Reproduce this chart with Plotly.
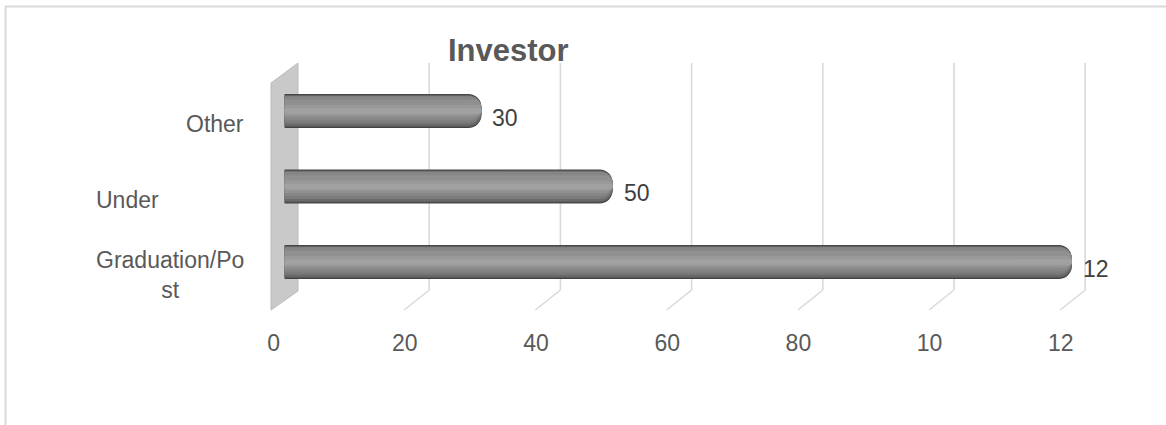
import plotly.graph_objects as go

# ---- data ----
categories = ["Graduation/Post", "Under", "Other"]
category_text = ["Graduation/Po<br>st", "Under", "Other"]
values = [120, 50, 30]
bar_labels = ["12", "50", "30"]
tick_values = [0, 20, 40, 60, 80, 100, 120]
tick_text = ["0", "20", "40", "60", "80", "10", "12"]
title_text = "Investor"

# ---- styling ----
W, H = 1166, 425
PX_PER_UNIT = 6.56
FONT = "Arial, Liberation Sans, sans-serif"
TXT = "#595959"
GRID = "#d9d9d9"
ycenter_px = 262
spacing = 75.5


def px_range(zero_px):
    r0 = -zero_px / PX_PER_UNIT
    return [r0, r0 + W / PX_PER_UNIT]


def py(p):  # pixel-from-top -> paper
    return 1 - p / H


fig = go.Figure()

# layered bars (bottom, top in category units) to imitate the cylinder shading
bands = [
    (-0.225, 0.225, "#424242"),
    (-0.212, 0.214, "#595959"),
    (-0.195, 0.206, "#6b6b6b"),
    (-0.165, 0.200, "#7b7b7b"),
    (-0.125, 0.192, "#868686"),
    (-0.085, 0.150, "#909090"),
    (-0.055, 0.080, "#999999"),
    (-0.035, 0.035, "#a1a1a1"),
]
for b, t, c in bands:
    r = min(13, (t - b) * spacing / 2)
    fig.add_trace(go.Bar(
        y=categories, x=values, orientation="h", width=t - b, offset=b,
        marker=dict(color=c, line=dict(width=0), cornerradius=r),
        hoverinfo="skip", showlegend=False,
    ))

# data labels
for cat, v, t in zip(categories, values, bar_labels):
    fig.add_annotation(x=v, y=cat, xref="x", yref="y", text=t, showarrow=False,
                       xanchor="left", yanchor="middle", xshift=9, yshift=-6.5,
                       font=dict(family=FONT, size=23, color="#404040"))

# category labels
cat_style = {
    "Graduation/Post": ("center", 170),
    "Under": ("left", 94),
    "Other": ("right", 246),
}
for cat, txt in zip(categories, category_text):
    anc, xpx = cat_style[cat]
    fig.add_annotation(x=xpx / W, y=cat, xref="paper", yref="y", text=txt,
                       showarrow=False, xanchor=anc, yanchor="middle", yshift=-13,
                       align="center",
                       font=dict(family=FONT, size=23, color=TXT))

# title
fig.add_annotation(x=508 / W, y=py(50), xref="paper", yref="paper",
                   text="<b>%s</b>" % title_text, showarrow=False,
                   xanchor="center", yanchor="middle",
                   font=dict(family=FONT, size=31, color=TXT))

shapes = []
# side wall
wall_dx = 27 / PX_PER_UNIT
shapes.append(dict(type="path", xref="x3", yref="paper", layer="below",
                   path=f"M 0,{py(63)} L 0,{py(291)} L {-wall_dx},{py(310)} L {-wall_dx},{py(83)} Z",
                   fillcolor="#c9c9c9", line=dict(color="#bcbcbc", width=1)))
# gridlines on back wall + floor diagonals
diag = 25 / PX_PER_UNIT
for v in tick_values[1:]:
    shapes.append(dict(type="line", xref="x3", yref="paper", layer="below",
                       x0=v, x1=v, y0=py(63), y1=py(290),
                       line=dict(color=GRID, width=1.6)))
    shapes.append(dict(type="line", xref="x3", yref="paper", layer="below",
                       x0=v, x1=v - diag, y0=py(290), y1=py(310),
                       line=dict(color=GRID, width=1.6)))
# chart frame
shapes.append(dict(type="line", xref="paper", yref="paper", x0=5 / W, x1=1, y0=py(6.5), y1=py(6.5),
                   line=dict(color=GRID, width=2)))
shapes.append(dict(type="line", xref="paper", yref="paper", x0=5.5 / W, x1=5.5 / W, y0=py(6), y1=0,
                   line=dict(color=GRID, width=2)))

fig.update_layout(
    width=W, height=H, autosize=False,
    margin=dict(l=0, r=0, t=0, b=0, pad=0),
    paper_bgcolor="white", plot_bgcolor="rgba(0,0,0,0)",
    barmode="overlay",
    shapes=shapes,
    xaxis=dict(range=px_range(284.6), visible=False, fixedrange=True),
    xaxis2=dict(range=px_range(273.6), overlaying="x", anchor="free", position=py(327),
                tickmode="array", tickvals=tick_values, ticktext=tick_text,
                showgrid=False, zeroline=False, showline=False, ticks="",
                tickfont=dict(family=FONT, size=23, color=TXT)),
    xaxis3=dict(range=px_range(298), overlaying="x", visible=False),
    yaxis=dict(range=[-(H - ycenter_px) / spacing, ycenter_px / spacing],
               visible=False, type="category", categoryorder="array",
               categoryarray=categories),
    showlegend=False,
)
# invisible helper traces so the overlay axes are laid out
fig.add_trace(go.Scatter(x=[0], y=[categories[0]], xaxis="x2", mode="markers",
                         marker=dict(opacity=0), hoverinfo="skip", showlegend=False))
fig.add_trace(go.Scatter(x=[0], y=[categories[0]], xaxis="x3", mode="markers",
                         marker=dict(opacity=0), hoverinfo="skip", showlegend=False))

fig.write_html("out.html")
